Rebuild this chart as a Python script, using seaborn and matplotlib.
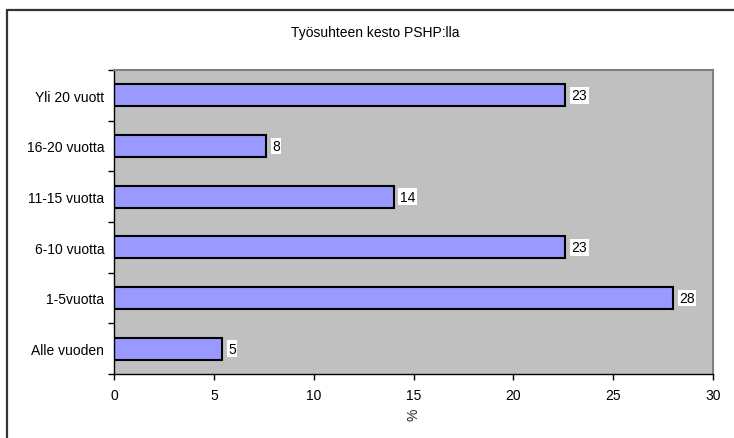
import matplotlib
matplotlib.use("Agg")
import matplotlib.pyplot as plt
from matplotlib.lines import Line2D
import pandas as pd
import seaborn as sns

# Duration of employment at PSHP, share of respondents (%)
categories = ["Yli 20 vuott", "16-20 vuotta", "11-15 vuotta",
              "6-10 vuotta", "1-5vuotta", "Alle vuoden"]
shares = [22.6, 7.6, 14.0, 22.6, 28.0, 5.4]
x_ticks = [0, 5, 10, 15, 20, 25, 30]

title = "Työsuhteen kesto PSHP:lla"
x_label = "%"

sns.set_theme(style="white")
plt.rcParams["font.family"] = ["Liberation Sans", "DejaVu Sans"]

W, H = 734, 439
fig = plt.figure(figsize=(W / 100, H / 100), dpi=100)
fig.patch.set_facecolor("white")

left, right, top, bottom = 114, 713, 71, 375
ax = fig.add_axes([left / W, 1 - bottom / H, (right - left) / W, (bottom - top) / H])
ax.set_facecolor("#C0C0C0")

df = pd.DataFrame({"kesto": categories, "osuus": shares})
sns.barplot(data=df, x="osuus", y="kesto", order=categories, orient="h",
            color="#9999FF", saturation=1, width=0.43,
            edgecolor="black", linewidth=1.5, ax=ax)

fs = 10
ax.set_xlim(0, 30)
ax.set_ylim(len(categories) - 0.5, -0.5)
ax.set_xticks(x_ticks)
ax.set_xticklabels([str(t) for t in x_ticks], fontsize=fs, color="black")
ax.set_yticks(range(len(categories)))
ax.set_yticklabels(categories, fontsize=fs, color="black")
ax.set_yticks([i - 0.5 for i in range(len(categories) + 1)], minor=True)
ax.tick_params(axis="y", which="major", length=0, pad=7)
ax.tick_params(axis="y", which="minor", length=4, width=1, color="black", direction="out", left=True)
ax.tick_params(axis="x", which="major", length=4, width=1, color="black", direction="out", bottom=True, pad=6)
ax.set_xlabel(x_label, fontsize=fs, rotation=90, labelpad=4)
ax.set_ylabel("")
ax.grid(False)

for side in ("left", "bottom"):
    ax.spines[side].set_color("black")
    ax.spines[side].set_linewidth(1)
for side in ("top", "right"):
    ax.spines[side].set_color("#808080")
    ax.spines[side].set_linewidth(1.5)

# Value labels next to each bar
for i, v in enumerate(shares):
    ax.annotate(f"{v:.0f}", xy=(v, i), xytext=(4.5, 0), textcoords="offset points",
                va="center", ha="left", fontsize=fs, color="black",
                bbox=dict(boxstyle="square,pad=0.1", facecolor="white", edgecolor="none"))

fig.text(375 / W, 1 - 33 / H, title, ha="center", va="center", fontsize=10, color="black")

# Chart area border
fig.add_artist(Line2D([7 / W, 1.0], [1 - 11 / H, 1 - 11 / H], transform=fig.transFigure,
                      color="#333333", linewidth=1.6))
fig.add_artist(Line2D([7 / W, 7 / W], [1 - 11 / H, 0.0], transform=fig.transFigure,
                      color="#333333", linewidth=1.6))

fig.savefig("out.png", dpi=100, facecolor="white")
